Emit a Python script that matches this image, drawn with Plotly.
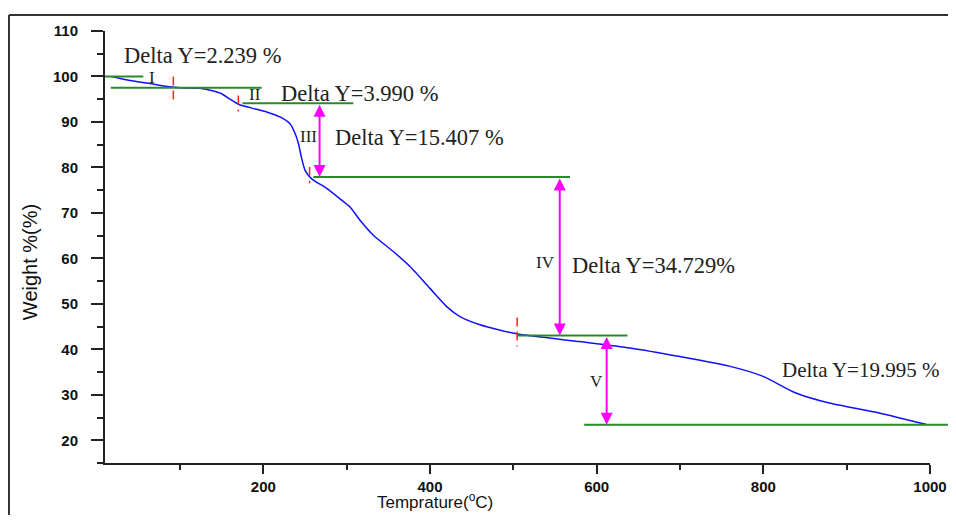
import plotly.graph_objects as go

# ---- data ----
temps = [18, 40, 65, 85, 100, 124, 140, 150, 160, 170, 185, 204, 220, 232, 238, 242, 246, 250, 254, 260,
         276, 294, 304, 316, 332, 356, 376, 400, 420, 436, 460, 504, 580, 640, 700, 759, 799, 839, 879, 939, 995]
weights = [100.0, 99.1, 98.4, 97.8, 97.5, 97.4, 96.8, 96.2, 95.0, 93.9, 93.1, 92.2, 91.1, 89.6, 87.5, 85.3, 82.0, 79.4, 78.3, 77.2,
           75.4, 72.8, 71.3, 68.4, 65.1, 61.5, 58.2, 53.4, 49.4, 47.2, 45.4, 43.4, 41.7, 40.3, 38.4, 36.3, 34.1, 30.4, 28.2, 26.0, 23.5]

# green step levels: (y, x_start, x_end)
level_y = [100.0, 97.5, 94.1, 77.9, 43.05, 23.4]
level_x0 = [10, 17, 175, 260, 504, 585]
level_x1 = [56, 198, 308, 568, 637, 1000]

# red dashed markers: (x, y_top, y_bottom)
mark_x = [92, 170, 255.5, 504.6]
mark_y0 = [100.0, 95.8, 80.1, 47.0]
mark_y1 = [94.2, 92.3, 76.5, 40.6]

# magenta double arrows: (x, y_top, y_bottom)
arrow_x = [267.5, 555.7, 612]
arrow_top = [94.1, 77.9, 43.05]
arrow_bot = [77.9, 43.05, 23.4]

# stage labels
stage_text = ["I", "II", "III", "IV", "V"]
stage_x = [66, 190, 254, 539, 600]
stage_y = [99.8, 96.05, 86.8, 59.0, 33.0]

# delta labels
delta_text = ["Delta Y=2.239 %", "Delta Y=3.990 %", "Delta Y=15.407 %", "Delta Y=34.729%", "Delta Y=19.995 %"]
delta_x = [30, 219, 283, 568, 820]
delta_y = [104.6, 96.3, 86.6, 58.4, 35.4]
delta_size = [22.5, 22.5, 22.5, 22.5, 21]

x_range = [10, 1000]
y_range = [15, 110]

fig = go.Figure()
fig.add_trace(go.Scatter(x=temps, y=weights, mode="lines",
                         line=dict(color="#1010ff", width=1.5, shape="spline", smoothing=0.6),
                         showlegend=False, hoverinfo="skip"))

GREEN = "#2a8a2a"
for y, x0, x1 in zip(level_y, level_x0, level_x1):
    fig.add_shape(type="line", xref="x", yref="y", x0=x0, x1=x1, y0=y, y1=y,
                  line=dict(color=GREEN, width=2))
# last level continues past the end of the axis
fig.add_shape(type="line", xref="x domain", yref="y", x0=1, x1=1.05, y0=level_y[-1], y1=level_y[-1],
              line=dict(color=GREEN, width=2))

for x, y0, y1 in zip(mark_x, mark_y0, mark_y1):
    fig.add_shape(type="line", xref="x", yref="y", x0=x, x1=x, y0=y0, y1=y1,
                  line=dict(color="#ff2020", width=1.5, dash="9px,5px"))

for x, yt, yb in zip(arrow_x, arrow_top, arrow_bot):
    fig.add_annotation(x=x, y=yb, ax=x, ay=yt, axref="x", ayref="y", xref="x", yref="y",
                       text="", showarrow=True, arrowside="end+start", arrowhead=2, startarrowhead=2,
                       arrowsize=1.2, startarrowsize=1.2, arrowwidth=2, arrowcolor="#ff00ff",
                       standoff=0, startstandoff=0)

for t, x, y in zip(stage_text, stage_x, stage_y):
    fig.add_annotation(x=x, y=y, xref="x", yref="y", text=t, showarrow=False,
                       xanchor="center", yanchor="middle",
                       font=dict(family="Liberation Serif", size=17, color="#222"))

for t, x, y, s in zip(delta_text, delta_x, delta_y, delta_size):
    fig.add_annotation(x=x, y=y, xref="x", yref="y", text=t, showarrow=False,
                       xanchor="left", yanchor="middle",
                       font=dict(family="Liberation Serif", size=s, color="#222"))

# axis titles
fig.add_annotation(x=0.40, y=-0.118, xref="paper", yref="paper", text="Temprature(<sup>o</sup>C)",
                   showarrow=False, xanchor="center", yanchor="bottom",
                   font=dict(family="Liberation Sans", size=17, color="#111"))
fig.add_annotation(x=-0.0909, y=0.465, xref="paper", yref="paper", text="Weight %(%)",
                   showarrow=False, textangle=-90, xanchor="center", yanchor="middle",
                   font=dict(family="Liberation Sans", size=20, color="#111"))

# outer frame (top and left edges are visible in the picture)
fig.add_shape(type="line", xref="paper", yref="paper", x0=-0.1164, x1=1.2, y0=1.037, y1=1.037,
              line=dict(color="#333", width=2))
fig.add_shape(type="line", xref="paper", yref="paper", x0=-0.1164, x1=-0.1164, y0=-0.4, y1=1.037,
              line=dict(color="#333", width=2))

axis_common = dict(showline=True, linecolor="#222", linewidth=2, ticks="outside", tickwidth=2,
                   tickcolor="#222", showgrid=False, zeroline=False,
                   tickfont=dict(family="Liberation Sans", size=15, color="#111", weight="bold"))

fig.update_xaxes(range=x_range, dtick=200, tick0=0, ticklen=9, ticklabelstandoff=0,
                 minor=dict(ticks="outside", dtick=100, tick0=0, ticklen=5, tickwidth=2, tickcolor="#222"),
                 **axis_common)
fig.update_yaxes(range=y_range, dtick=10, tick0=0, ticklen=12, ticklabelstandoff=10,
                 minor=dict(ticks="outside", dtick=5, tick0=0, ticklen=6, tickwidth=2, tickcolor="#222"),
                 **axis_common)

# the page body has an 8px margin: size the figure so it fits the window without scrollbars
fig.update_layout(width=940, height=507, margin=dict(l=97, r=18, t=23, b=52, autoexpand=False),
                  plot_bgcolor="white", paper_bgcolor="white", showlegend=False)

fig.write_html("out.html")
